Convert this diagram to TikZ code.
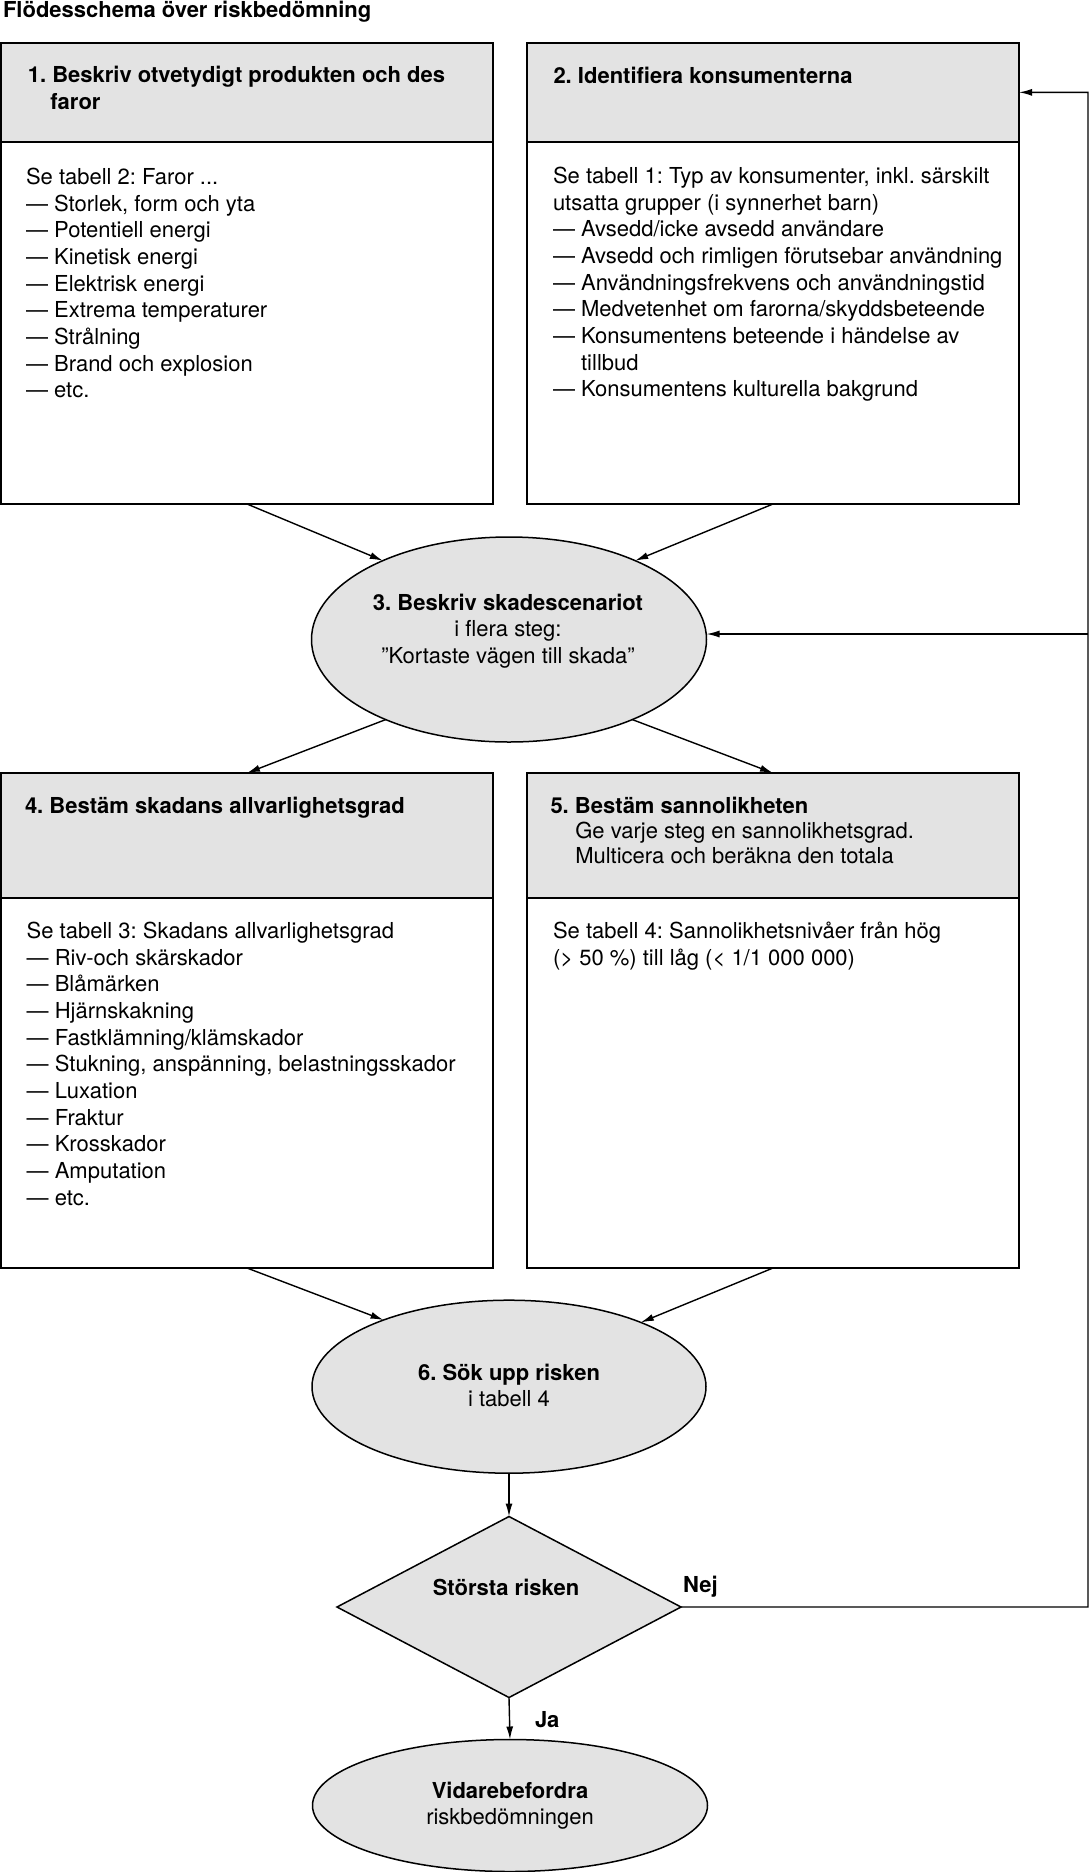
\documentclass[tikz,border=0pt]{standalone}
\usepackage{fontspec}
\setmainfont{TeX Gyre Heros}
\usetikzlibrary{shapes.geometric,arrows.meta}
\definecolor{boxgray}{RGB}{227,227,227}
\newcommand\fs{\rule{0pt}{17pt}}
\frenchspacing
\begin{document}
\begin{tikzpicture}[x=1pt,y=-1pt,
  every node/.style={font=\fontsize{22}{26.7}\selectfont, inner sep=0pt, outer sep=0pt},
  hdr/.style={draw, line width=1.7pt, fill=boxgray, anchor=north west, minimum width=492pt},
  bdy/.style={draw, line width=1.7pt, fill=white, anchor=north west, minimum width=492pt},
  oval/.style={draw, ellipse, line width=1.5pt, fill=boxgray},
  dia/.style={draw, diamond, line width=1.5pt, fill=boxgray, minimum width=344pt, minimum height=181pt},
  txt/.style={anchor=north west, align=left},
  ctxt/.style={anchor=north, align=center},
  arr/.style={line width=1.4pt, -{Latex[length=13pt,width=7pt]}},
]
\useasboundingbox[fill=white] (0,0) rectangle (1090,1872);

% title
\node[anchor=base west, font=\fontsize{22}{26.7}\selectfont\bfseries] (title) at (3,17) {Flödesschema över riskbedömning};

% box 1
\node[hdr, minimum height=98.7pt] (h1) at (1,43) {};
\node[bdy, minimum height=362.3pt] (b1) at (1,141.7) {};
\node[txt, font=\fontsize{22}{26.7}\selectfont\bfseries] (h1t) at (27.8,65.3) {\fs 1. Beskriv otvetydigt produkten och des\\\hspace{22.6pt}faror};
\node[txt] (b1t) at (26,167.3) {\fs Se tabell 2: Faror ...\\
— Storlek, form och yta\\
— Potentiell energi\\
— Kinetisk energi\\
— Elektrisk energi\\
— Extrema temperaturer\\
— Strålning\\
— Brand och explosion\\
— etc.};

% box 2
\node[hdr, minimum height=98.7pt] (h2) at (527,43) {};
\node[bdy, minimum height=362.3pt] (b2) at (527,141.7) {};
\node[txt, font=\fontsize{22}{26.7}\selectfont\bfseries] (h2t) at (553.5,66.3) {\fs 2. Identifiera konsumenterna};
\node[txt] (b2t) at (553,166.3) {\fs Se tabell 1: Typ av konsumenter, inkl. särskilt\\
utsatta grupper (i synnerhet barn)\\
— Avsedd/icke avsedd användare\\
— Avsedd och rimligen förutsebar användning\\
— Användningsfrekvens och användningstid\\
— Medvetenhet om farorna/skyddsbeteende\\
— Konsumentens beteende i händelse av\\
\phantom{— }tillbud\\
— Konsumentens kulturella bakgrund};

% ellipse 3
\node[oval, minimum width=395pt, minimum height=205pt] (e3) at (509,639.5) {};
\node[ctxt] (t3) at (508,593) {\fs\textbf{3. Beskriv skadescenariot}\\i flera steg:\\”Kortaste vägen till skada”};

% box 4
\node[hdr, minimum height=125pt] (h4) at (1,773) {};
\node[bdy, minimum height=370pt] (b4) at (1,898) {};
\node[txt, font=\fontsize{22}{26.7}\selectfont\bfseries] (h4t) at (25,796) {\fs 4. Bestäm skadans allvarlighetsgrad};
\node[txt] (b4t) at (26.7,921.3) {\fs Se tabell 3: Skadans allvarlighetsgrad\\
— Riv-och skärskador\\
— Blåmärken\\
— Hjärnskakning\\
— Fastklämning/klämskador\\
— Stukning, anspänning, belastningsskador\\
— Luxation\\
— Fraktur\\
— Krosskador\\
— Amputation\\
— etc.};

% box 5
\node[hdr, minimum height=125pt] (h5) at (527,773) {};
\node[bdy, minimum height=370pt] (b5) at (527,898) {};
\node[txt, font=\fontsize{22}{25.2}\selectfont] (h5t) at (550.5,796.3) {\fs\textbf{5. Bestäm sannolikheten}\\
\hspace{24.8pt}Ge varje steg en sannolikhetsgrad.\\
\hspace{24.8pt}Multicera och beräkna den totala};
\node[txt] (b5t) at (553,921.3) {\fs Se tabell 4: Sannolikhetsnivåer från hög\\
(> 50 \%) till låg (< 1/1 000 000)};

% ellipse 6
\node[oval, minimum width=394pt, minimum height=173pt] (e6) at (509,1386.7) {};
\node[ctxt] (t6) at (509,1363) {\fs\textbf{6. Sök upp risken}\\i tabell 4};

% diamond
\node[dia] (d) at (509,1607) {};
\node[anchor=base, font=\fontsize{22}{26.7}\selectfont\bfseries] (td) at (506,1595) {Största risken};

% final ellipse
\node[oval, minimum width=395pt, minimum height=132pt] (ef) at (510,1805.5) {};
\node[ctxt] (tf) at (510,1781) {\fs\textbf{Vidarebefordra}\\riskbedömningen};

% labels
\node[anchor=base west, font=\fontsize{22}{26.7}\selectfont\bfseries] (nej) at (683,1592) {Nej};
\node[anchor=base west, font=\fontsize{22}{26.7}\selectfont\bfseries] (ja) at (535,1727) {Ja};

% coordinates for feedback loop
\coordinate (c1) at (1088,1607);
\coordinate (c2) at (1088,92.35);
\coordinate (c3) at (1088,634);

% connectors
\draw[arr] (b1.south) -- (e3.148);
\draw[arr] (b2.south) -- (e3.32);
\draw[arr] (e3.213) -- (h4.north);
\draw[arr] (e3.327) -- (h5.north);
\draw[arr] (b4.south) -- (e6.152.5);
\draw[arr] (b5.south) -- (e6.26.5);
\draw[arr] (e6.south) -- (d.north);
\draw[arr] (d.south) -- (ef.north);
\draw[arr] (d.east) -- (c1) -- (c2) -- (h2.east);
\draw[arr] (c3) -- (c3 -| e3.east);
\end{tikzpicture}
\end{document}
